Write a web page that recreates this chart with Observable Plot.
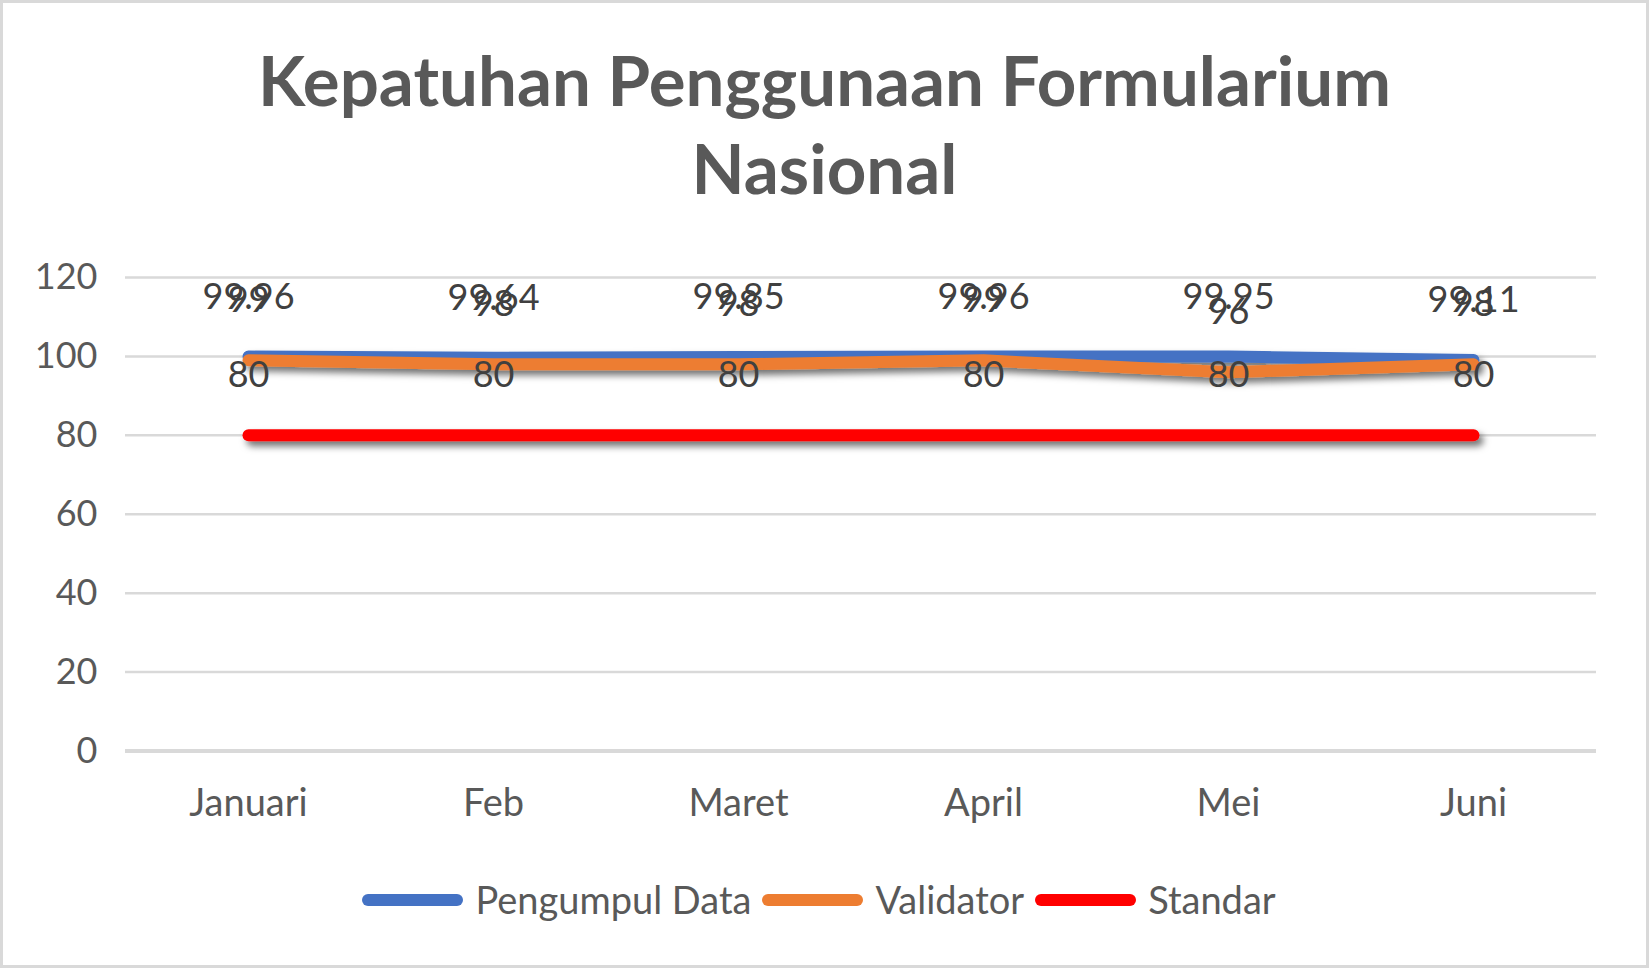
<!DOCTYPE html>
<html><head><meta charset="utf-8">
<script src="https://cdn.jsdelivr.net/npm/d3@7"></script>
<script src="https://cdn.jsdelivr.net/npm/@observablehq/plot@0.6"></script>
<style>
body{margin:0;background:#fff;}
#wrap{position:relative;width:1649px;height:968px;overflow:hidden;background:#fff;font-family:Lato,"Open Sans",sans-serif;}
#frame{position:absolute;left:0;top:0;width:1649px;height:968px;box-sizing:border-box;border:3px solid #d9d9d9;pointer-events:none;}
#title{position:absolute;left:0;top:36px;width:1649px;text-align:center;font-weight:700;font-size:69px;line-height:88px;color:#595959;}
#chart{position:absolute;left:0;top:0;}
#legend{position:absolute;left:0;top:877px;width:1649px;display:flex;justify-content:center;align-items:center;font-size:38px;line-height:45.6px;color:#595959;}
#legend .item{display:flex;align-items:center;margin-right:11px;}
#legend svg{margin-right:12px;}
</style>
</head><body>
<div id="wrap">
  <div id="chart"></div>
  <div id="title">Kepatuhan Penggunaan Formularium<br>Nasional</div>
  <div id="legend"></div>
  <div id="frame"></div>
</div>
<script>
const months = ["Januari","Feb","Maret","April","Mei","Juni"];
const pengumpul = [99.96,99.64,99.85,99.96,99.95,99.11];
const validator = [99,98,98,99,96,98];
const standar = [80,80,80,80,80,80];
const seriesNames = ["Pengumpul Data","Validator","Standar"];
const seriesColors = ["#4472C4","#ED7D31","#FF0000"];
const yTicks = [0,20,40,60,80,100,120];

const seriesValues = [pengumpul, validator, standar];
const rows = [];
seriesNames.forEach((s,i)=>{
  months.forEach((m,j)=>rows.push({series:s, month:m, value:seriesValues[i][j]}));
});

const plot = Plot.plot({
  width:1649, height:840,
  marginTop:277, marginBottom:89.5, marginLeft:125, marginRight:53,
  style:{fontFamily:"Lato, 'Open Sans', sans-serif", color:"#595959", background:"transparent", overflow:"visible"},
  x:{type:"point", domain:months, padding:0.5, label:null},
  y:{domain:[0,120], label:null},
  color:{domain:seriesNames, range:seriesColors},
  marks:[
    Plot.gridY(yTicks.filter(d=>d>0), {stroke:"#d9d9d9", strokeOpacity:1, strokeWidth:2.5}),
    Plot.ruleY([0], {stroke:"#d9d9d9", strokeWidth:4}),
    Plot.axisY(yTicks, {tickSize:0, tickPadding:28, fontSize:36, fill:"#595959", label:null}),
    Plot.axisX({tickSize:0, tickPadding:38, fontSize:38, fill:"#595959", label:null}),
    Plot.line(rows, {x:"month", y:"value", z:"series", stroke:"series", strokeWidth:12, strokeLinecap:"round", strokeLinejoin:"round"}),
    Plot.text(rows, {x:"month", y:"value", text:d=>String(d.value), dy:-48, lineAnchor:"bottom", fontSize:36, fill:"#404040"})
  ]
});

// drop shadow for the lines (Excel-like)
const svg = d3.select(plot);
const defs = svg.insert("defs", ":first-child");
const f = defs.append("filter").attr("id","shadow").attr("filterUnits","userSpaceOnUse")
  .attr("x",0).attr("y",0).attr("width",1649).attr("height",840);
f.append("feDropShadow").attr("dx",4).attr("dy",5).attr("stdDeviation",3.5)
  .attr("flood-color","#000").attr("flood-opacity",0.55);
svg.selectAll('g[aria-label="line"]').attr("filter","url(#shadow)");

document.getElementById("chart").appendChild(plot);

// legend
const legend = d3.select("#legend");
seriesNames.forEach((s,i)=>{
  const item = legend.append("div").attr("class","item");
  const sw = item.append("svg").attr("width",101).attr("height",14);
  sw.append("line").attr("x1",6).attr("x2",95).attr("y1",7).attr("y2",7)
    .attr("stroke",seriesColors[i]).attr("stroke-width",12).attr("stroke-linecap","round");
  item.append("span").text(s);
});
</script>
</body></html>
